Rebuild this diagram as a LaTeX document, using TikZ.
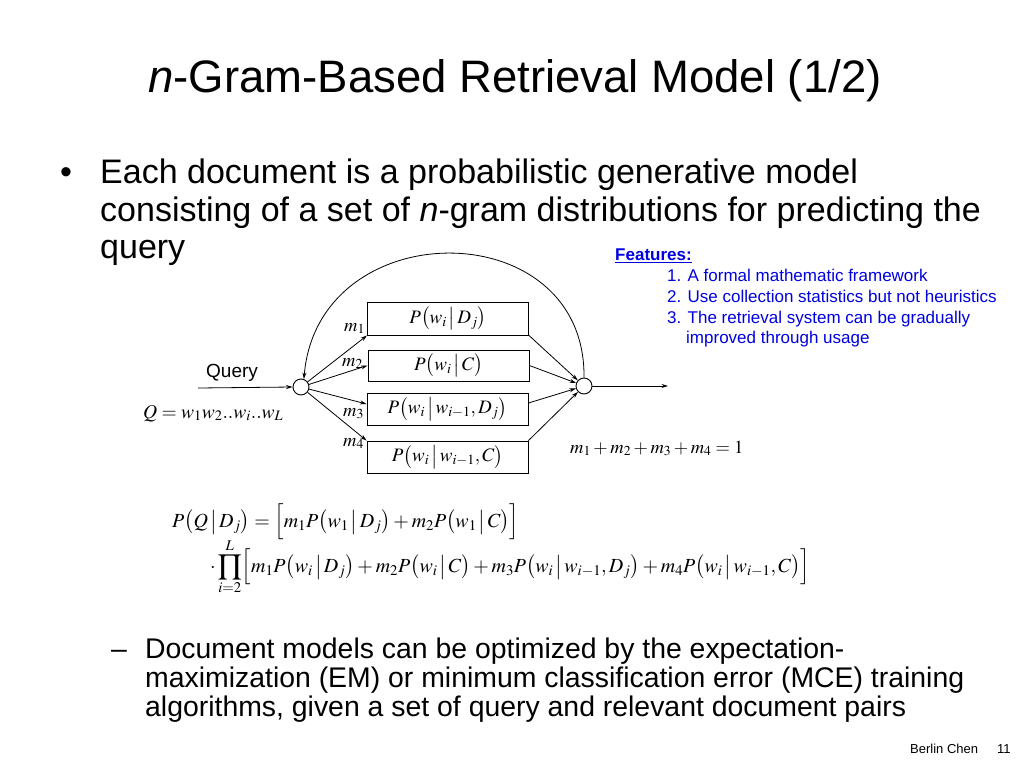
\documentclass[tikz,border=0pt]{standalone}
\usepackage{mathptmx}
\usepackage[no-math]{fontspec}
\setmainfont{Liberation Sans}
\usetikzlibrary{arrows.meta}
\definecolor{featblue}{RGB}{0,0,224}
\newcommand\mP[1]{P\bigl(#1\bigr)}
\newcommand\mbar{\,\big|\,}
\begin{document}
\begin{tikzpicture}[x=1pt,y=-1pt,
  txt/.style={inner sep=0pt, anchor=base west},
  boxn/.style={draw, line width=0.9pt, inner sep=0pt, minimum width=161pt, font=\fontsize{19}{22}\selectfont},
  junc/.style={circle, draw, line width=0.9pt, minimum size=16pt, inner sep=0pt},
  arr/.style={line width=0.8pt, -{Stealth[length=6.5pt,width=4pt]}},
  body/.style={txt, font=\fontsize{34}{37}\selectfont},
  sub/.style={txt, font=\fontsize{28.4}{30}\selectfont},
  feat/.style={txt, text=featblue, font=\fontsize{17}{21}\selectfont},
  mth/.style={txt, font=\fontsize{18.5}{21}\selectfont},
  big/.style={txt, font=\fontsize{20}{24}\selectfont}]
\useasboundingbox (0,0) rectangle (1024,768);
\fill[white] (0,0) rectangle (1024,768);

% title
\node[inner sep=0pt, anchor=base, font=\fontsize{45.5}{50}\selectfont] (title) at (515,92) {\textit{n}-Gram-Based Retrieval Model (1/2)};

% main bullet
\node[body] (bul) at (60,183) {•};
\node[body] (l1) at (100,183) {Each document is a probabilistic generative model};
\node[body] (l2) at (100,221) {consisting of a set of \textit{n}-gram distributions for predicting the};
\node[body] (l3) at (100,258) {query};

% features
\node[feat, font=\fontsize{17}{21}\selectfont\bfseries] (fh) at (615,260) {\underline{Features:}};
\node[feat] (f1) at (667,281) {1. A formal mathematic framework};
\node[feat] (f2) at (667,302) {2. Use collection statistics but not heuristics};
\node[feat] (f3) at (667,323) {3. The retrieval system can be gradually};
\node[feat] (f4) at (686,343) {improved through usage};

% diagram
\node[junc] (L) at (301,387) {};
\node[junc] (R) at (584,386) {};
\node[boxn, minimum height=33pt] (b1) at (448,318.5) {$\mP{w_i\mbar D_j}$};
\node[boxn, minimum height=31pt] (b2) at (448.5,365.5) {$\mP{w_i\mbar C}$};
\node[boxn, minimum height=32pt] (b3) at (447.5,409) {$\mP{w_i\mbar w_{i-1},D_j}$};
\node[boxn, minimum height=32pt] (b4) at (447.5,457) {$\mP{w_i\mbar w_{i-1},C}$};

\draw[arr] (L) -- (b1.south west);
\draw[arr] (L) -- (b2.west);
\draw[arr] (L) -- ([yshift=5pt]b3.west);
\draw[arr] (L) -- (b4.north west);
\draw[arr] (b1.south east) -- (R);
\draw[arr] (b2.east) -- (R);
\draw[arr] ([yshift=6pt]b3.east) -- (R);
\draw[arr] (b4.north east) -- (R);
\draw[arr] (R.north) .. controls (586,212) and (318,212) .. (L.70);

\coordinate (qs) at (198,388);
\coordinate (oe) at (668,386);
\draw[arr] (qs) -- (L.west);
\draw[arr] (R.east) -- (oe);

\node[txt, font=\fontsize{19}{22}\selectfont] (ql) at (206,377) {Query};
\node[txt, font=\fontsize{19.5}{22}\selectfont] (qf) at (143,418) {$Q=w_1w_2..w_i..w_L$};

\node[mth] (m1) at (344,331) {$m_1$};
\node[mth] (m2) at (342,366) {$m_2$};
\node[mth] (m3) at (343,416) {$m_3$};
\node[mth] (m4) at (343,446) {$m_4$};
\node[mth] (msum) at (570,453) {$m_1+m_2+m_3+m_4=1$};

% formula
\node[big] (e1) at (172,527) {$P\bigl(Q\,\big|\,D_j\bigr)=\Bigl[m_1\mP{w_1\mbar D_j}+m_2\mP{w_1\mbar C}\Bigr]$};
\node[big] (e2) at (210,572) {$\displaystyle\cdot\prod_{i=2}^{L}\Bigl[m_1\mP{w_i\mbar D_j}+m_2\mP{w_i\mbar C}+m_3\mP{w_i\mbar w_{i-1},D_j}+m_4\mP{w_i\mbar w_{i-1},C}\Bigr]$};

% sub bullet
\node[sub] (dash) at (111,658) {–};
\node[sub] (s1) at (145,658) {Document models can be optimized by the expectation-};
\node[sub] (s2) at (145,687) {maximization (EM) or minimum classification error (MCE) training};
\node[sub] (s3) at (145,716) {algorithms, given a set of query and relevant document pairs};

% footer
\node[txt, font=\fontsize{13}{15}\selectfont] (ft) at (910,753) {Berlin Chen};
\node[txt, font=\fontsize{13}{15}\selectfont] (pg) at (997,753) {11};
\end{tikzpicture}
\end{document}
